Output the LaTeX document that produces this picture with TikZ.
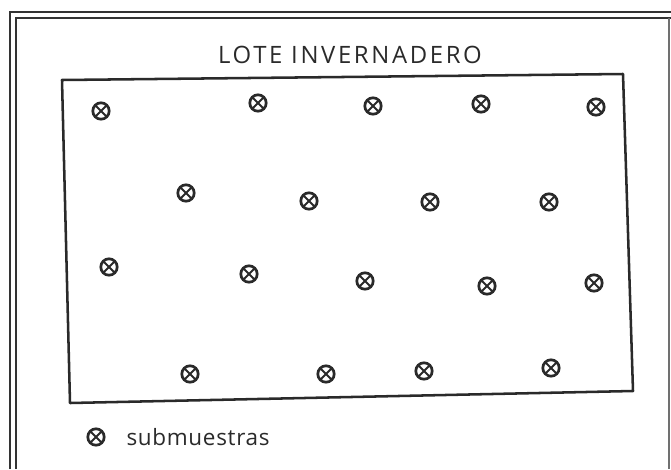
\documentclass[tikz,border=0pt]{standalone}
\usepackage{fontspec}
\setmainfont{Open Sans}
\usetikzlibrary{positioning}
\definecolor{lapiz}{HTML}{2A2A2A}
\definecolor{marco}{HTML}{333333}
\tikzset{
  muestra/.style={circle,draw=lapiz,line width=1.9pt,minimum size=4.1mm,inner sep=0pt,
    path picture={\draw[lapiz,line width=1.4pt]
      (path picture bounding box.south west) -- (path picture bounding box.north east)
      (path picture bounding box.north west) -- (path picture bounding box.south east);}},
  lote/.style={draw=lapiz,line width=1.8pt,line join=round},
  titulo/.style={font=\fontsize{17}{19}\selectfont\addfontfeature{LetterSpace=11},text=lapiz},
  leyenda/.style={font=\fontsize{16}{18}\selectfont\addfontfeature{LetterSpace=3},text=lapiz},
}
\begin{document}
\begin{tikzpicture}[x=0.025cm,y=-0.025cm]
  \useasboundingbox (0,0) rectangle (671,469);

  % ---- frame ----
  \draw[marco,line width=1.6pt] (10,469) -- (10,12) -- (671,12);
  \draw[marco,line width=1.6pt] (16,469) -- (16,18) -- (671,18);
  \draw[marco!70,line width=.8pt] (669,18) -- (669,469);

  % ---- plot ----
  \coordinate (nw) at (62,80);
  \coordinate (ne) at (623,74);
  \coordinate (se) at (633,391);
  \coordinate (sw) at (70,403);
  \draw[lote] (nw) -- (ne) -- (se) -- (sw) -- cycle;
  \node[titulo] (tit) at (350,55) {LOTE INVERNADERO};

  % ---- subsamples ----
  \foreach \k/\x/\y in {1/101/111, 2/258/103, 3/373/106, 4/481/104, 5/596/107}{
    \node[muestra] (a\k) at (\x,\y) {};
  }
  \foreach \k/\x/\y in {1/186/193, 2/309/201, 3/430/202, 4/549/202}{
    \node[muestra] (b\k) at (\x,\y) {};
  }
  \foreach \k/\x/\y in {1/109/267, 2/249/274, 3/365/281, 4/487/286, 5/594/283}{
    \node[muestra] (c\k) at (\x,\y) {};
  }
  \foreach \k/\x/\y in {1/190/374, 2/326/374, 3/424/371, 4/551/368}{
    \node[muestra] (d\k) at (\x,\y) {};
  }

  % ---- legend ----
  \node[muestra] (ley) at (96,437) {};
  \node[leyenda,anchor=west,right=4mm of ley] (leytxt) {submuestras};
\end{tikzpicture}
\end{document}
